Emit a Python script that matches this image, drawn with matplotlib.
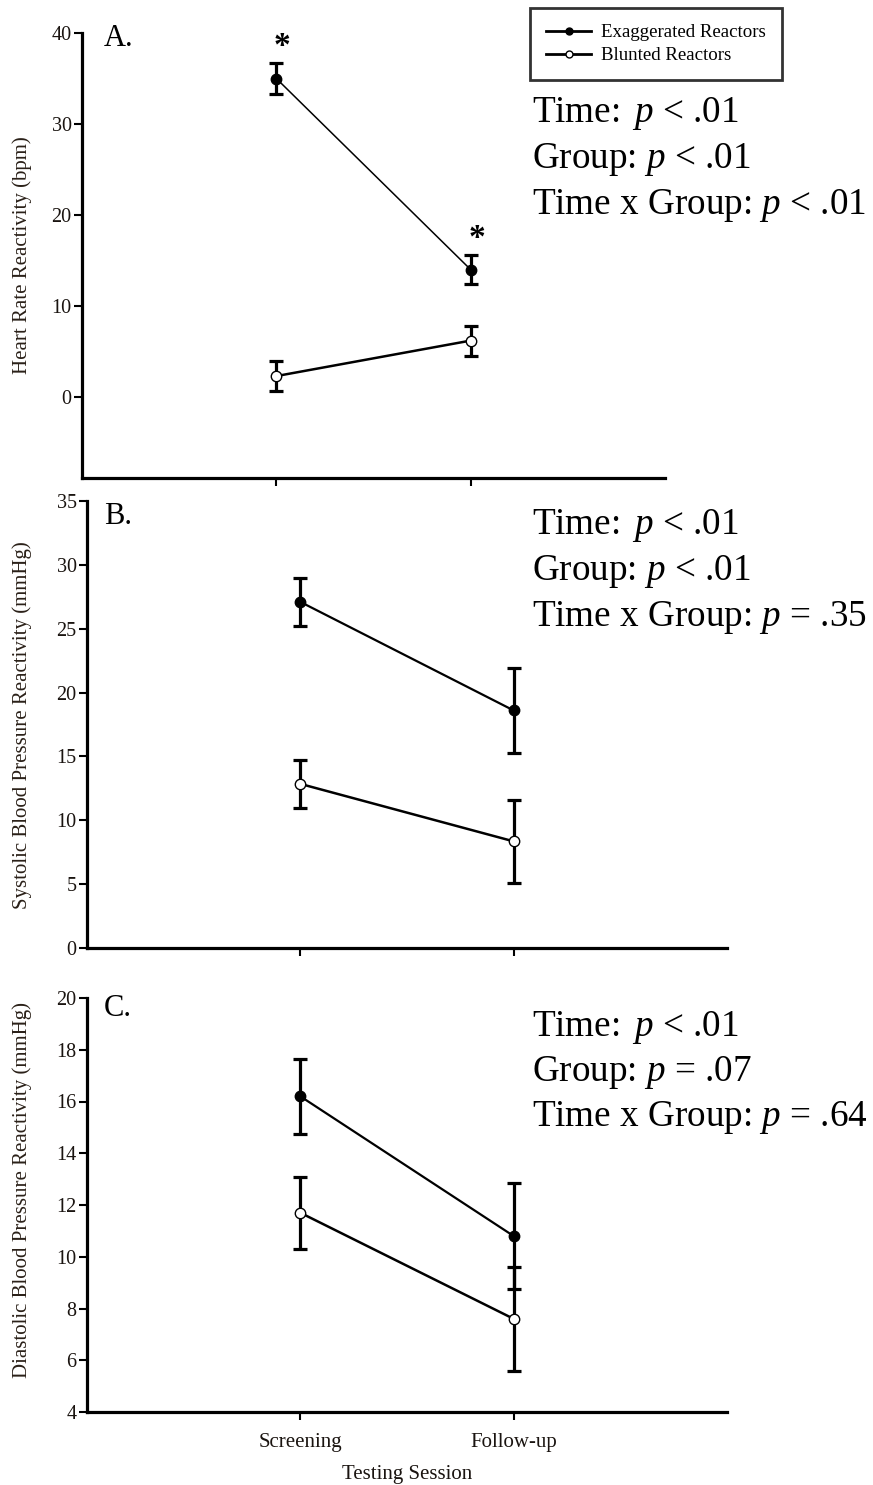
import matplotlib
matplotlib.use("Agg")
import matplotlib.pyplot as plt
from matplotlib.lines import Line2D

plt.rcParams['font.family'] = ['Liberation Serif', 'DejaVu Serif']
plt.rcParams['mathtext.fontset'] = 'custom'
plt.rcParams['mathtext.rm'] = 'Liberation Serif'
plt.rcParams['mathtext.it'] = 'Liberation Serif:italic'

# ---------------- data ----------------
sessions = ["Screening", "Follow-up"]
groups = ["Exaggerated Reactors", "Blunted Reactors"]

hr_exag = [35.0, 14.0]
hr_exag_err = [1.7, 1.6]
hr_blunt = [2.3, 6.2]
hr_blunt_err = [1.65, 1.65]
hr_sig = [True, True]

sbp_exag = [27.1, 18.6]
sbp_exag_err = [1.85, 3.35]
sbp_blunt = [12.85, 8.35]
sbp_blunt_err = [1.9, 3.25]

dbp_exag = [16.2, 10.8]
dbp_exag_err = [1.45, 2.05]
dbp_blunt = [11.7, 7.6]
dbp_blunt_err = [1.4, 2.0]

ylabels = ["Heart Rate Reactivity (bpm)",
           "Systolic Blood Pressure Reactivity (mmHg)",
           "Diastolic Blood Pressure Reactivity (mmHg)"]
panel_letters = ["A.", "B.", "C."]
stats_text = [
    ["Time: $\\,p$ < .01", "Group: $p$ < .01", "Time x Group: $p$ < .01"],
    ["Time: $\\,p$ < .01", "Group: $p$ < .01", "Time x Group: $p$ = .35"],
    ["Time: $\\,p$ < .01", "Group: $p$ = .07", "Time x Group: $p$ = .64"],
]
ylims = [(-8.9, 40), (0, 35), (4, 20)]
yticks = [[0, 10, 20, 30, 40], [0, 5, 10, 15, 20, 25, 30, 35],
          [4, 6, 8, 10, 12, 14, 16, 18, 20]]
xlabel = "Testing Session"

# ---------------- layout ----------------
W, H = 873, 1485
fig = plt.figure(figsize=(W / 100, H / 100), dpi=100)

def px_axes(left, right, top, bottom):
    return fig.add_axes([left / W, 1 - bottom / H, (right - left) / W, (bottom - top) / H])

axA = px_axes(82, 665, 33, 478)
axB = px_axes(87, 727, 501, 948)
axC = px_axes(87, 727, 998, 1412)
axes = [axA, axB, axC]

data = [
    (hr_exag, hr_exag_err, hr_blunt, hr_blunt_err),
    (sbp_exag, sbp_exag_err, sbp_blunt, sbp_blunt_err),
    (dbp_exag, dbp_exag_err, dbp_blunt, dbp_blunt_err),
]
x = [0, 1]
ink = '#1a1410'
for i, (ax, (ex, exe, bl, ble)) in enumerate(zip(axes, data)):
    lw_exag = 1.1 if i == 0 else 1.6
    ax.errorbar(x, ex, yerr=exe, fmt='none', ecolor='black', elinewidth=2.3,
                capsize=5, capthick=2.3, zorder=2)
    ax.errorbar(x, bl, yerr=ble, fmt='none', ecolor='black', elinewidth=2.3,
                capsize=5, capthick=2.3, zorder=2)
    ax.plot(x, ex, '-', color='black', lw=lw_exag, zorder=3)
    ax.plot(x, bl, '-', color='black', lw=1.8, zorder=3)
    ax.plot(x, ex, 'o', color='black', ms=7.5, zorder=4)
    ax.plot(x, bl, 'o', mfc='white', mec='black', mew=1.0, ms=7.5, zorder=4)

    ax.set_xlim(-1, 2)
    ax.set_ylim(*ylims[i])
    ax.set_yticks(yticks[i])
    ax.set_xticks(x)
    for s in ['top', 'right']:
        ax.spines[s].set_visible(False)
    for s in ['left', 'bottom']:
        ax.spines[s].set_linewidth(2.3)
    ax.tick_params(axis='y', direction='out', length=5.5, width=1.5,
                   labelsize=14.5, colors=ink, pad=2)
    ax.tick_params(axis='x', direction='out', length=6, width=1.5,
                   labelsize=15, colors=ink, pad=9)
    ax.tick_params(axis='both', color='black')
    if i < 2:
        ax.set_xticklabels([])
    else:
        ax.set_xticklabels(sessions)

# asterisks in panel A
for xi, y, e, sig in zip(x, hr_exag, hr_exag_err, hr_sig):
    if sig:
        axA.text(xi + 0.03, y + e + 1.8, '*', ha='center', va='center',
                 fontsize=24, fontweight='bold', color='black')

# y labels
ylab_pos = [(22, 255, 15), (22, 725, 15), (22, 1190, 15)]
for lab, (xp, yp, fs) in zip(ylabels, ylab_pos):
    fig.text(xp / W, 1 - yp / H, lab, rotation=90, ha='center', va='center',
             fontsize=fs, color='#2a2018')

# x label
fig.text(407 / W, 1 - 1474 / H, xlabel, ha='center', va='center', fontsize=15,
         color=ink)

# panel letters
for letter, yp in zip(panel_letters, [38, 516, 1008]):
    fig.text(104 / W, 1 - yp / H, letter, ha='left', va='center', fontsize=22,
             color='black')

# stats text
for lines, y0 in zip(stats_text, [114, 526, 1027]):
    for k, t in enumerate(lines):
        fig.text(532 / W, 1 - (y0 + 45.5 * k) / H, t, ha='left', va='center',
                 fontsize=26.7, color='black')

# legend
handles = [
    Line2D([], [], color='black', lw=2, marker='o', ms=5, mfc='black', mec='black'),
    Line2D([], [], color='black', lw=2, marker='o', ms=5, mfc='white', mec='black'),
]
leg = fig.legend(handles, groups, loc='upper left',
                 bbox_to_anchor=(530 / W, 1 - 8 / H), frameon=True, fancybox=False,
                 fontsize=13.6, handlelength=2.4, handletextpad=0.5,
                 borderpad=0.85, labelspacing=0.3, borderaxespad=0)
leg.get_frame().set_edgecolor('black')
leg.get_frame().set_linewidth(2.0)

fig.savefig("out.png", dpi=100)
